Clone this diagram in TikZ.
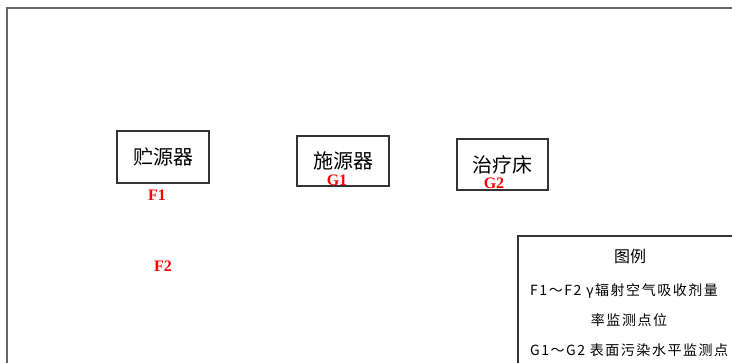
\documentclass[tikz,border=0pt]{standalone}
\usepackage{fontspec}
\setmainfont{Liberation Serif}
\newfontfamily\cjk{Noto Sans CJK SC}
\newfontfamily\cjkleg[LetterSpace=11]{Noto Sans CJK SC}
\begin{document}
\begin{tikzpicture}[x=1pt,y=-1pt,
  frame/.style={draw=black!75,line width=1.2pt},
  device/.style={draw=black!80,line width=1.2pt,minimum width=92pt,inner sep=0pt,font=\cjk\fontsize{20}{20}\selectfont},
  ptlabel/.style={text=red,font=\bfseries\fontsize{16}{16}\selectfont,inner sep=0pt},
  legtext/.style={font=\cjkleg\fontsize{14}{14}\selectfont,inner sep=0pt}]
\useasboundingbox (0,0) rectangle (732,363);
\fill[white] (0,0) rectangle (732,363);
% outer frame
\coordinate (fa) at (7,363);
\coordinate (fb) at (7,8);
\coordinate (fc) at (732,8);
\draw[frame,draw=black!60] (fa) -- (fb) -- (fc);
% devices
\node[device,minimum height=52pt] (store) at (163,157) {贮源器};
\node[device,minimum height=50pt] (appl) at (343,161) {施源器};
\node[device,minimum width=91pt,minimum height=51pt] (bed) at (502.5,164.5) {治疗床};
% labels
\node[ptlabel] (F1) at (157,195) {F1};
\node[ptlabel] (F2) at (163,266) {F2};
\node[ptlabel] (G1) at (337,180) {G1};
\node[ptlabel] (G2) at (494,183) {G2};
% legend
\coordinate (la) at (518,363);
\coordinate (lb) at (518,236);
\coordinate (lc) at (732,236);
\draw[frame,draw=black!80] (la) -- (lb) -- (lc);
\node[font=\cjk\fontsize{16}{16}\selectfont,inner sep=0pt] (lt) at (630,256) {图例};
\node[legtext,anchor=west] (l1) at (530,291) {F1～F2 γ辐射空气吸收剂量};
\node[legtext] (l2) at (629,320) {率监测点位};
\node[legtext,anchor=west] (l3) at (530,350) {G1～G2 表面污染水平监测点};
\end{tikzpicture}
\end{document}
